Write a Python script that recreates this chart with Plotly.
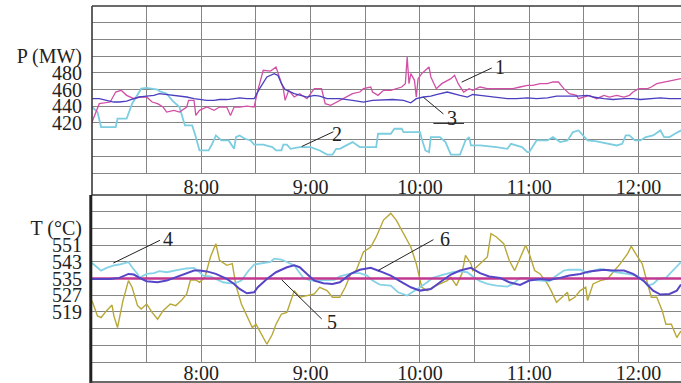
import plotly.graph_objects as go

# ---------------- data (minutes after 7:00) ----------------
# Top panel: P (MW)
p1_min = [0, 4, 10, 13, 16, 19, 23, 26, 30, 33, 36, 39, 41, 45, 48, 52, 53, 56, 57, 59, 63, 67, 70, 74, 76, 78,
          81, 85, 89, 91, 94, 98, 101, 103, 105, 106, 108, 111, 114, 118, 121, 122, 126, 128, 131, 136, 140, 143,
          147, 149, 153, 154, 157, 160, 164, 167, 170, 172, 173, 174, 175, 177, 178, 179, 181, 183, 185, 186, 189,
          192, 195, 197, 199, 201, 204, 207, 209, 213, 217, 220, 224, 228, 231, 235, 239, 242, 246, 250, 253, 256,
          259, 262, 266, 267, 270, 273, 277, 281, 284, 288, 292, 295, 297, 300, 305, 307, 310, 315, 319, 323.3]
p1_val = [421, 443, 445, 457, 459, 453, 449, 451, 451, 445, 443, 439, 433, 435, 433, 439, 447, 447, 429, 435,
          439, 435, 439, 439, 429, 439, 439, 440, 439, 459, 483, 482, 487, 475, 461, 447, 459, 451, 455, 449,
          459, 461, 461, 443, 441, 447, 451, 455, 457, 461, 463, 457, 453, 459, 459, 461, 463, 467, 499, 467,
          479, 471, 451, 473, 479, 483, 487, 475, 461, 467, 471, 473, 477, 467, 457, 461, 459, 463, 461, 461,
          461, 461, 461, 463, 465, 465, 467, 467, 469, 469, 461, 455, 453, 449, 451, 453, 449, 453, 451, 453,
          451, 453, 457, 461, 461, 463, 467, 469, 471, 473]

p2_min = [0, 3, 5, 13, 14, 19, 22, 25, 27, 30, 36, 37, 41, 44, 46, 48, 51, 55, 57, 59, 64, 66, 68, 71, 75, 78,
          79, 81, 84, 87, 89, 94, 99, 101, 104, 105, 107, 109, 114, 120, 125, 129, 132, 134, 136, 143, 147, 156,
          157, 164, 166, 170, 171, 180, 181, 183, 185, 186, 191, 194, 197, 202, 205, 207, 208, 213, 222, 228,
          230, 236, 239, 240, 244, 250, 253, 257, 261, 264, 267, 270, 272, 277, 283, 288, 291, 293, 295, 298,
          301, 304, 308, 312, 314, 317, 320, 323.3]
p2_val = [439, 433, 415, 415, 425, 425, 443, 453, 461, 462, 460, 458, 455, 447, 443, 439, 417, 417, 403, 387,
          387, 395, 405, 399, 399, 389, 403, 405, 401, 399, 394, 394, 391, 387, 387, 394, 394, 389, 391, 391,
          387, 382, 382, 389, 389, 397, 391, 391, 407, 407, 413, 413, 409, 409, 401, 387, 385, 403, 403, 397,
          382, 382, 399, 403, 393, 393, 391, 389, 395, 391, 385, 385, 399, 399, 403, 397, 399, 409, 411, 403,
          399, 398, 395, 393, 395, 405, 405, 399, 399, 403, 405, 411, 403, 403, 407, 411]

p3_min = [0, 4, 8, 12, 15, 19, 23, 26, 30, 34, 37, 41, 45, 48, 52, 56, 59, 63, 67, 70, 74, 78, 81, 85, 89, 92,
          96, 100, 102, 104, 106, 111, 114, 118, 122, 125, 129, 132, 136, 143, 149, 154, 160, 165, 171, 175, 178,
          182, 186, 189, 195, 198, 202, 206, 209, 213, 217, 222, 228, 233, 239, 244, 250, 255, 261, 266, 272, 275,
          281, 286, 292, 297, 301, 306, 312, 317, 323.3]
p3_val = [449, 449, 447, 445, 445, 446, 449, 451, 452, 453, 455, 454, 453, 452, 451, 449, 448, 447, 447, 448,
          448, 449, 450, 449, 449, 461, 475, 479, 477, 467, 460, 455, 453, 451, 453, 452, 449, 449, 449, 447,
          445, 447, 448, 448, 447, 444, 449, 451, 452, 454, 457, 455, 453, 451, 454, 453, 452, 450, 449, 449,
          450, 449, 450, 452, 452, 452, 453, 451, 449, 448, 449, 449, 448, 449, 450, 449, 449]

# Bottom panel: T (°C)
t4_min = [0, 3, 5, 8, 12, 15, 18, 20, 22, 25, 26, 30, 34, 37, 41, 45, 48, 52, 56, 58, 61, 65, 68, 72, 76, 79,
          82, 86, 89, 94, 98, 100, 104, 107, 111, 113, 116, 120, 125, 131, 133, 136, 140, 143, 147, 151, 154,
          158, 164, 168, 173, 176, 180, 184, 187, 191, 195, 198, 202, 206, 209, 213, 217, 222, 228, 231, 235,
          239, 242, 246, 251, 255, 259, 262, 268, 272, 275, 279, 283, 288, 294, 299, 303, 305, 308, 311, 315,
          319, 323.3]
t4_val = [542.4, 540.4, 538.8, 540.1, 541.3, 541.7, 542.4, 542.9, 540.4, 537.2, 535.3, 537.2, 537.6, 538.5,
          538.0, 538.8, 539.2, 539.8, 540.1, 538.8, 536.4, 536.0, 534.8, 533.2, 532.7, 532.9, 534.0, 538.8,
          541.7, 542.5, 542.9, 544.5, 544.0, 542.9, 541.3, 538.8, 535.3, 534.0, 534.0, 534.0, 534.3, 536.0,
          536.9, 537.6, 537.6, 536.4, 534.0, 532.1, 531.6, 528.4, 526.8, 528.4, 530.8, 533.2, 535.3, 536.4,
          537.2, 538.0, 538.4, 538.0, 536.0, 533.7, 532.4, 531.6, 531.1, 532.4, 535.3, 535.3, 534.3, 534.0,
          533.7, 536.4, 538.8, 539.2, 539.2, 537.6, 538.8, 539.6, 538.8, 538.0, 537.2, 536.4, 534.0, 531.6,
          532.4, 534.8, 535.3, 538.8, 542.9]

t5_min = [0, 323.3]
t5_val = [535, 535]

t6_min = [0, 4, 10, 15, 20, 23, 26, 30, 36, 41, 45, 50, 56, 59, 63, 68, 74, 78, 81, 85, 89, 91, 96, 101, 107,
          111, 114, 118, 122, 127, 132, 136, 142, 147, 153, 158, 164, 169, 175, 180, 186, 191, 197, 202, 208,
          213, 218, 224, 229, 235, 240, 246, 251, 257, 262, 268, 273, 281, 286, 292, 297, 303, 308, 312, 317,
          321, 323.3]
t6_val = [534.8, 534.8, 534.8, 535.3, 537.2, 536.9, 535.3, 533.7, 533.2, 534.0, 535.3, 537.2, 538.8, 538.8,
          538.4, 537.2, 534.8, 532.4, 530.0, 527.9, 528.4, 530.8, 534.8, 538.0, 540.4, 541.3, 540.4, 537.2,
          534.0, 532.7, 532.4, 533.2, 537.2, 539.2, 540.1, 538.5, 536.4, 533.7, 530.8, 529.2, 530.0, 533.2,
          536.9, 538.8, 540.1, 537.6, 536.0, 535.3, 533.2, 531.9, 534.0, 534.8, 534.3, 535.3, 536.4, 537.2,
          538.4, 539.2, 538.8, 538.8, 537.2, 533.7, 529.2, 527.3, 527.6, 529.2, 532.1]

t7_min = [0, 3, 5, 8, 11, 12, 14, 15, 17, 20, 22, 25, 27, 30, 33, 36, 39, 43, 46, 49, 52, 54, 57, 59, 62, 65,
          68, 70, 74, 77, 79, 82, 85, 88, 90, 93, 96, 99, 101, 104, 107, 111, 114, 118, 122, 125, 129, 132, 136,
          139, 142, 145, 149, 153, 156, 160, 164, 167, 171, 175, 178, 181, 184, 187, 191, 195, 197, 200, 203,
          205, 208, 209, 213, 217, 219, 222, 226, 229, 232, 235, 238, 240, 243, 246, 250, 252, 255, 258, 261,
          262, 265, 268, 271, 272, 275, 279, 283, 286, 290, 294, 296, 299, 302, 304, 307, 310, 313, 315, 318,
          321, 323.3]
t7_val = [524.4, 517.1, 516.3, 519.6, 522.3, 517.1, 511.5, 516.3, 524.4, 534.0, 530.8, 522.0, 520.4, 522.8,
          518.8, 515.5, 519.6, 522.8, 522.0, 524.4, 527.6, 534.3, 534.3, 533.2, 535.6, 545.3, 551.7, 543.7,
          541.3, 542.1, 531.6, 522.8, 517.1, 511.5, 513.1, 508.3, 503.5, 508.3, 513.1, 518.0, 518.8, 529.2,
          526.0, 526.8, 527.6, 530.8, 529.2, 526.0, 526.0, 530.8, 537.2, 538.8, 547.7, 550.1, 554.9, 563.0,
          566.2, 563.0, 556.5, 550.1, 542.1, 530.8, 529.2, 530.8, 532.4, 534.0, 535.6, 531.6, 537.2, 546.1,
          542.1, 538.8, 542.1, 545.3, 556.5, 554.9, 551.7, 543.7, 538.8, 545.3, 550.9, 546.9, 538.8, 537.2,
          532.4, 529.2, 523.6, 526.0, 528.4, 524.4, 526.0, 529.2, 530.8, 524.4, 532.4, 534.0, 534.8, 538.0,
          542.1, 546.9, 550.4, 546.1, 542.1, 535.6, 526.0, 526.0, 519.6, 513.1, 513.1, 506.7, 509.9]

grid_min = [30, 60, 90, 120, 150, 180, 210, 240, 270, 300]
grid_lbl = ["", "8:00", "", "9:00", "", "10:00", "", "11:00", "", "12:00"]

p_ticks = [380, 400, 420, 440, 460, 480, 500, 520, 540]
p_lbls = ["", "", "420", "440", "460", "480", "P (MW)", "", ""]
t_ticks = [503, 511, 519, 527, 535, 543, 551, 559, 567]
t_lbls = ["", "", "519", "527", "535", "543", "551", "T (°C)", ""]

# label annotations: (text, x, y, leader x0, y0, x1, y1, panel)
labels = [
    ("1", 224, 486.9, 219.4, 485.7, 202.9, 468.8, "top"),
    ("2", 134.7, 406.6, 132.5, 409.4, 115.1, 391.7, "top"),
    ("3", 197.5, 425.9, 192.9, 430.7, 181.9, 450.7, "top"),
    ("4", 41.9, 554.1, 37.3, 553.3, 11.7, 542.4, "bot"),
    ("5", 131.6, 514.4, 126.1, 515.6, 104.1, 534.4, "bot"),
    ("6", 193.8, 554.1, 187.4, 553.6, 157.2, 538.9, "bot"),
]

# ---------------- figure ----------------
FONT = "Liberation Serif, Times New Roman, serif"
FS = 20
W, H = 681, 383
ML, MT, MB = 92, 6, 21
PH = H - MT - MB
PW = W - ML


def py(pix):
    return (H - MB - pix) / PH


def px(pix):
    return (pix - ML) / PW


fig = go.Figure()

top = dict(xaxis="x", yaxis="y")
bot = dict(xaxis="x2", yaxis="y2")

fig.add_trace(go.Scatter(x=p2_min, y=p2_val, mode="lines", line=dict(color="#7ccde0", width=1.8), **top))
fig.add_trace(go.Scatter(x=p1_min, y=p1_val, mode="lines", line=dict(color="#d14fa5", width=1.3), **top))
fig.add_trace(go.Scatter(x=p3_min, y=p3_val, mode="lines", line=dict(color="#4a3fbf", width=1.3), **top))

fig.add_trace(go.Scatter(x=t7_min, y=t7_val, mode="lines", line=dict(color="#b8a838", width=1.4), **bot))
fig.add_trace(go.Scatter(x=t4_min, y=t4_val, mode="lines", line=dict(color="#86d2e6", width=1.8), **bot))
fig.add_trace(go.Scatter(x=t5_min, y=t5_val, mode="lines", line=dict(color="#c2388f", width=2.5), **bot))
fig.add_trace(go.Scatter(x=t6_min, y=t6_val, mode="lines", line=dict(color="#5646c6", width=2.0), **bot))

xcommon = dict(range=[0, 323.3], tickmode="array", tickvals=grid_min, ticktext=grid_lbl,
               showgrid=True, gridcolor="#858585", gridwidth=1.3, zeroline=False,
               showline=True, linecolor="#858585", linewidth=1.3, ticks="", automargin=False,
               tickfont=dict(family=FONT, size=FS, color="#222"), fixedrange=True)
ycommon = dict(tickmode="array", showgrid=True, gridcolor="#858585", gridwidth=1.1,
               zeroline=False, showline=False, ticks="", ticklabelstandoff=9, automargin=False,
               tickfont=dict(family=FONT, size=FS, color="#222"), fixedrange=True)

top_dom = [py(173), 1.0]
bot_dom = [0.0, py(195)]

fig.update_layout(
    width=W, height=H,
    margin=dict(l=ML, r=0, t=MT, b=MB, pad=0, autoexpand=False),
    paper_bgcolor="white", plot_bgcolor="white",
    showlegend=False,
    xaxis=dict(**xcommon, domain=[0, 1], anchor="y", ticklabelstandoff=-4),
    yaxis=dict(**ycommon, domain=top_dom, range=[360, 560], tickvals=p_ticks, ticktext=p_lbls, anchor="x"),
    xaxis2=dict(**xcommon, domain=[0, 1], anchor="y2", ticklabelstandoff=-7),
    yaxis2=dict(**ycommon, domain=bot_dom, range=[495, 575], tickvals=t_ticks, ticktext=t_lbls, anchor="x2"),
)

shapes = []
dark = "#3a3a3a"
# frame lines
shapes.append(dict(type="line", xref="paper", yref="paper", x0=0, x1=1, y0=1, y1=1,
                   line=dict(color=dark, width=1.6)))
shapes.append(dict(type="line", xref="paper", yref="paper", x0=px(92), x1=px(92), y0=1, y1=py(195),
                   line=dict(color=dark, width=1.6)))
shapes.append(dict(type="line", xref="paper", yref="paper", x0=0, x1=1, y0=py(195), y1=py(195),
                   line=dict(color=dark, width=1.6)))
shapes.append(dict(type="line", xref="paper", yref="paper", x0=px(90.8), x1=px(90.8), y0=py(195), y1=py(383),
                   line=dict(color="#222", width=3)))
shapes.append(dict(type="line", xref="paper", yref="paper", x0=px(90), x1=1, y0=py(382), y1=py(382),
                   line=dict(color=dark, width=1.6)))

annotations = []
for txt, ax_, ay_, lx0, ly0, lx1, ly1, panel in labels:
    xr, yr = ("x", "y") if panel == "top" else ("x2", "y2")
    annotations.append(dict(text=txt, x=ax_, y=ay_, xref=xr, yref=yr, showarrow=False,
                            font=dict(family=FONT, size=FS, color="#222")))
    shapes.append(dict(type="line", xref=xr, yref=yr, x0=lx0, y0=ly0, x1=lx1, y1=ly1,
                       line=dict(color="#222", width=1)))
# short rule under label "3"
shapes.append(dict(type="line", xref="x", yref="y", x0=187.4, x1=204.2, y0=419.4, y1=419.4,
                   line=dict(color="#222", width=1)))

fig.update_layout(shapes=shapes, annotations=annotations)

fig.write_html("out.html", config={"displayModeBar": False},
               post_script="document.body.style.margin='0px';document.body.style.overflow='hidden';")
